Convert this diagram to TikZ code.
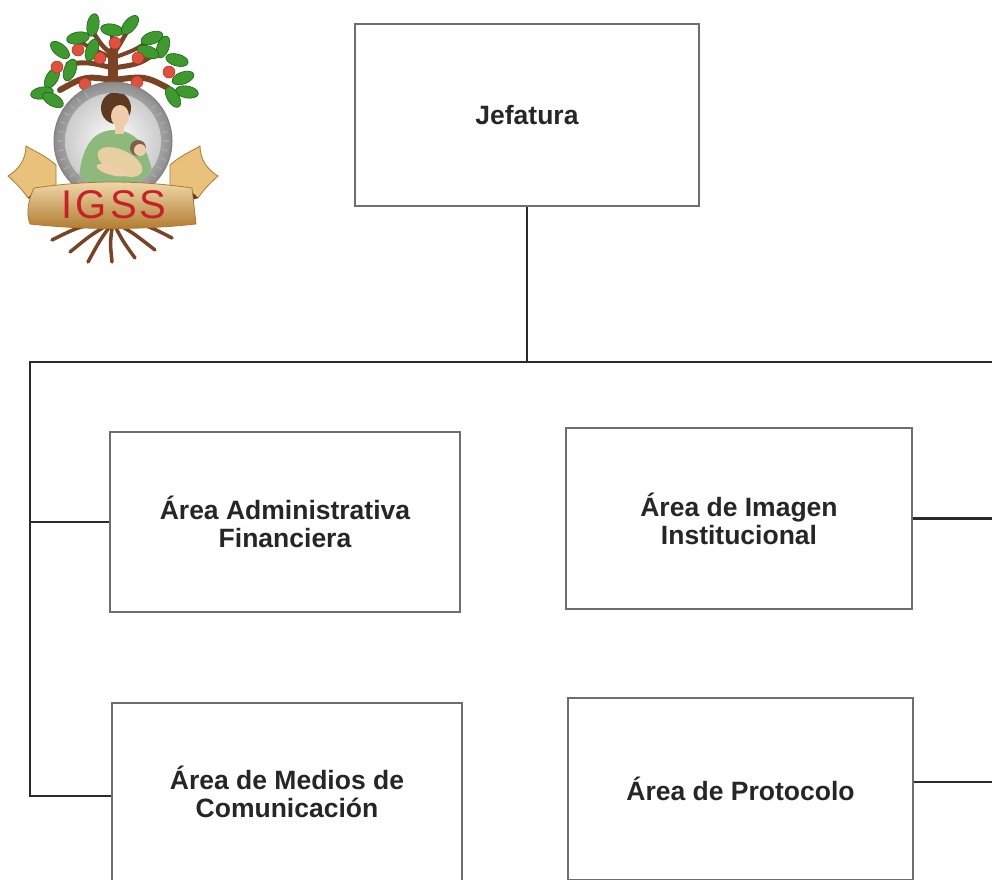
\documentclass[tikz,border=0pt]{standalone}
\usepackage{fontspec}
\setmainfont{Liberation Sans}
\usetikzlibrary{calc}

\definecolor{textgray}{HTML}{262626}
\definecolor{boxgray}{HTML}{6E6E6E}
\definecolor{linegray}{HTML}{2B2B2B}
\definecolor{leafgreen}{HTML}{3E9A2E}
\definecolor{leafdark}{HTML}{1F6418}
\definecolor{bark}{HTML}{7A4424}
\definecolor{fruit}{HTML}{E0503A}
\definecolor{gold}{HTML}{E8C27A}
\definecolor{golddark}{HTML}{B07A2C}
\definecolor{dress}{HTML}{8DBA7C}
\definecolor{skin}{HTML}{F0CDAA}
\definecolor{hair}{HTML}{5C3A22}
\definecolor{wrap}{HTML}{E6CFA0}
\definecolor{logored}{HTML}{C8202A}

\tikzset{
  unit/.style={draw=boxgray, line width=1.3pt, fill=white, align=center,
    inner sep=0pt, text=textgray,
    font=\fontsize{26.5}{28}\selectfont\bfseries},
  link/.style={draw=linegray, line width=2.8pt},
  leaf/.style={fill=leafgreen, draw=leafdark, line width=0.6pt},
  branch/.style={draw=bark, line cap=round, line join=round},
  apple/.style={fill=fruit, draw=fruit!70!black, line width=0.5pt},
}

\begin{document}
\begin{tikzpicture}[x=1pt, y=-1pt]
\useasboundingbox (0,0) rectangle (992,879);
\fill[white] (0,0) rectangle (992,879);
\clip (0,0) rectangle (992,879);

% ---------- emblem ----------
% roots
\foreach \ex/\ey/\cx/\cy in {52/240/80/226, 70/252/92/234, 88/262/100/240,
  112/262/110/242, 135/258/122/240, 155/250/132/232, 172/238/145/224}
  \draw[branch, line width=3.5pt] (113,222) .. controls (\cx,\cy) .. (\ex,\ey);
% trunk and branches
\draw[branch, line width=10pt] (113,92) -- (113,52);
\draw[branch, line width=6pt] (113,80) .. controls (85,76) .. (60,90);
\draw[branch, line width=6pt] (113,80) .. controls (145,76) .. (168,88);
\draw[branch, line width=5pt] (113,68) .. controls (88,62) .. (68,64);
\draw[branch, line width=5pt] (113,68) .. controls (140,64) .. (160,50);
\draw[branch, line width=4.5pt] (113,55) .. controls (102,46) .. (93,32);
\draw[branch, line width=4.5pt] (113,55) .. controls (120,44) .. (128,30);
\draw[branch, line width=4pt] (113,58) .. controls (90,48) .. (78,40);
\draw[branch, line width=4pt] (113,58) .. controls (135,50) .. (150,40);
\draw[branch, line width=4pt] (113,55) .. controls (112,42) .. (112,32);
% leaves
\foreach \lx/\ly/\la in {93/25/80, 112/30/-10, 130/25/50, 78/38/10, 92/50/70,
  60/50/-40, 70/70/70, 52/78/60, 42/93/10, 53/100/-30, 152/38/20, 163/47/70,
  177/60/-15, 183/78/20, 187/92/-10, 173/97/-60, 148/52/-20}
  \draw[leaf, rotate around={\la:(\lx,\ly)}] (\lx,\ly) ellipse (11.5pt and 6pt);
% fruits
\foreach \fx/\fy in {78/50, 100/58, 115/43, 138/58, 169/72, 57/67, 85/84, 137/82}
  \draw[apple] (\fx,\fy) circle (6pt);
% coin
\shade[inner color=white, outer color=black!45] (113,141) circle (59pt);
\draw[black!50, line width=1pt] (113,141) circle (59pt);
\shade[inner color=white, outer color=black!20] (113,141) circle (48pt);
\foreach \ang in {120,130,...,240} \draw[black!35, line width=1.6pt]
  ($(113,141)+(\ang:50pt)$) -- ($(113,141)+(\ang:56pt)$);
\foreach \ang in {-60,-50,...,40} \draw[black!35, line width=1.6pt]
  ($(113,141)+(\ang:50pt)$) -- ($(113,141)+(\ang:56pt)$);
% mother and child
\begin{scope}
  \clip (113,141) circle (48pt);
  \fill[dress] (78,200) .. controls (78,150) and (90,132) .. (112,130)
    .. controls (140,130) and (152,150) .. (156,200) -- cycle;
  \fill[hair] (116,108) ellipse (15pt and 16pt);
  \fill[skin] (120,116) ellipse (9pt and 11pt);
  \fill[skin] (115,124) rectangle (124,134);
  \fill[wrap, rotate around={-25:(120,162)}] (120,162) ellipse (24pt and 12pt);
  \fill[hair!80] (138,148) circle (8pt);
  \fill[skin] (140,150) circle (6pt);
  \fill[skin, rotate around={-15:(112,170)}] (112,170) ellipse (16pt and 5pt);
\end{scope}
% ribbon flaps
\draw[fill=gold, draw=golddark, line width=0.8pt]
  (56,165) .. controls (45,155) and (32,150) .. (26,146)
  .. controls (26,160) and (18,170) .. (8,176)
  .. controls (18,185) and (24,192) .. (28,198)
  .. controls (38,194) and (48,194) .. (56,200) -- cycle;
\draw[fill=gold, draw=golddark, line width=0.8pt]
  (170,165) .. controls (181,155) and (194,150) .. (200,146)
  .. controls (200,160) and (208,170) .. (218,176)
  .. controls (208,185) and (202,192) .. (198,198)
  .. controls (188,194) and (178,194) .. (170,200) -- cycle;
\fill[hair] (28,198) .. controls (34,190) and (44,188) .. (50,192) -- (46,204) -- cycle;
\fill[hair] (198,198) .. controls (192,190) and (182,188) .. (176,192) -- (180,204) -- cycle;
% ribbon band
\shade[top color=gold!60!white, bottom color=golddark, draw=golddark, line width=0.8pt]
  (34,188) .. controls (90,180) and (136,180) .. (192,188)
  -- (196,224) .. controls (140,230) and (86,230) .. (30,224)
  .. controls (26,214) and (28,200) .. (34,188) -- cycle;
\node[font=\fontsize{40}{40}\selectfont\addfontfeature{LetterSpace=8},
  text=logored, inner sep=0pt] (igss) at (114,205) {IGSS};

% ---------- organisation chart ----------
\node[unit, minimum width=344pt, minimum height=182pt] (jefatura)
  at (527,115) {Jefatura};
\node[unit, minimum width=350pt, minimum height=180pt] (admin)
  at (285,522) {Área Administrativa\\Financiera};
\node[unit, minimum width=346pt, minimum height=181pt] (imagen)
  at (739,518.5) {Área de Imagen\\Institucional};
\node[unit, minimum width=350pt, minimum height=178pt] (medios)
  at (287,792) {Área de Medios de\\Comunicación};
\node[unit, minimum width=345pt, minimum height=182pt] (protocolo)
  at (740.5,789) {Área de Protocolo};

\coordinate (busL) at (30,362);
\coordinate (busR) at (1000,362);
\coordinate (lowL) at (30,796);

\draw[link] (jefatura.south) -- (jefatura.south |- busL);
\draw[link, line join=miter] (busR) -- (busL) -- (lowL) -- (lowL -| medios.west);
\draw[link] (admin.west) -- (admin.west -| busL);
\draw[link] (imagen.east) -- ++(90,0);
\draw[link] ([yshift=7pt]protocolo.east) -- ++(90,0);
\end{tikzpicture}
\end{document}
